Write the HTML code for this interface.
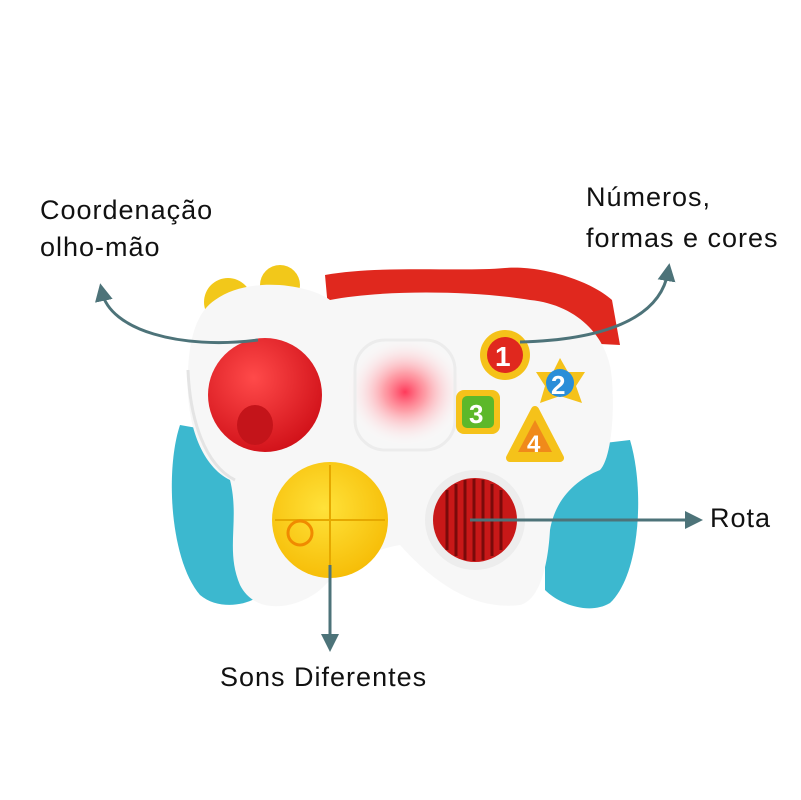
<!DOCTYPE html>
<html><head><meta charset="utf-8"><style>
html,body{margin:0;padding:0;background:#fff;width:801px;height:800px;overflow:hidden}
svg{display:block}
text{font-family:"Liberation Sans",sans-serif;font-size:27px;letter-spacing:1px;fill:#111}
</style></head><body>
<svg width="801" height="800" viewBox="0 0 801 800">
<defs>
<radialGradient id="glow" cx="0.5" cy="0.5" r="0.5">
<stop offset="0" stop-color="#ff3a5a"/><stop offset="0.35" stop-color="#ff8a95" stop-opacity="0.8"/><stop offset="1" stop-color="#ffffff" stop-opacity="0"/></radialGradient>
<radialGradient id="joy" cx="0.4" cy="0.35" r="0.7">
<stop offset="0" stop-color="#ff4a4a"/><stop offset="1" stop-color="#d01018"/></radialGradient>
<radialGradient id="yel" cx="0.45" cy="0.4" r="0.7">
<stop offset="0" stop-color="#ffe23a"/><stop offset="1" stop-color="#f5b800"/></radialGradient>
<marker id="ah" markerWidth="18" markerHeight="18" refX="9" refY="9" orient="auto" markerUnits="userSpaceOnUse" viewBox="0 0 18 18">
<path d="M0,0 L18,9 L0,18 Z" fill="#4d7379"/></marker>
</defs>
<path d="M180,425 C165,470 170,560 200,595 C220,612 255,605 265,590 L265,440 Z" fill="#3cb8cf"/>
<path d="M630,440 C645,490 640,575 610,603 C590,615 560,605 545,590 L545,450 Z" fill="#3cb8cf"/>
<path d="M325,275 C380,265 460,272 505,268 C540,265 590,280 612,300 L620,345 L330,330 Z" fill="#e0281e"/>
<circle cx="228" cy="302" r="24" fill="#f2c81a"/>
<circle cx="280" cy="285" r="20" fill="#f2c81a"/>
<path d="M215,300 C250,275 310,285 330,300 C380,290 470,290 530,300 C580,305 610,340 612,380 C615,420 610,460 600,470 C575,480 555,500 550,530 C548,565 540,600 520,605 C480,610 440,590 400,545 C370,550 345,565 320,590 C295,610 255,615 240,585 C225,550 240,520 230,480 C200,465 185,420 188,370 C190,330 200,310 215,300 Z" fill="#f7f7f7"/>
<path d="M188,370 C190,420 205,465 235,480" fill="none" stroke="#e4e4e4" stroke-width="3"/>
<ellipse cx="405" cy="392" rx="60" ry="55" fill="url(#glow)"/>
<rect x="355" y="340" width="100" height="110" rx="30" fill="none" stroke="#ececec" stroke-width="3"/>
<circle cx="265" cy="395" r="57" fill="url(#joy)"/>
<ellipse cx="255" cy="425" rx="18" ry="20" fill="#c4141a"/>
<circle cx="330" cy="520" r="58" fill="url(#yel)"/>
<path d="M330,465 L330,575 M275,520 L385,520" stroke="#e6a800" stroke-width="2"/>
<circle cx="300" cy="533" r="12" fill="none" stroke="#f08a00" stroke-width="3"/>
<circle cx="475" cy="520" r="50" fill="#ededed"/>
<circle cx="475" cy="520" r="42" fill="#c81818"/>
<g stroke="#7a0a0a" stroke-width="3">
<line x1="447" y1="490" x2="447" y2="550"/><line x1="456" y1="484" x2="456" y2="556"/><line x1="465" y1="480" x2="465" y2="560"/><line x1="474" y1="479" x2="474" y2="561"/><line x1="483" y1="480" x2="483" y2="560"/><line x1="492" y1="484" x2="492" y2="556"/><line x1="501" y1="490" x2="501" y2="550"/></g>
<circle cx="505" cy="355" r="25" fill="#f5c21a"/><circle cx="505" cy="355" r="18" fill="#e0281e"/>
<text x="495" y="366" style="font-size:28px;font-weight:bold;fill:#fff;letter-spacing:0">1</text>
<path d="M560,358 L568,372 L585,372 L576,386 L582,403 L560,396 L540,403 L545,386 L536,372 L553,372 Z" fill="#f5c21a"/>
<circle cx="560" cy="383" r="14" fill="#2a8ed8"/>
<text x="551" y="394" style="font-size:26px;font-weight:bold;fill:#fff;letter-spacing:0">2</text>
<rect x="456" y="390" width="44" height="44" rx="8" fill="#f5c21a"/><rect x="462" y="396" width="32" height="32" rx="5" fill="#5cb82a"/>
<text x="469" y="423" style="font-size:26px;font-weight:bold;fill:#fff;letter-spacing:0">3</text>
<path d="M535,410 L560,458 L510,458 Z" fill="#f5c21a" stroke="#f5c21a" stroke-width="8" stroke-linejoin="round"/>
<path d="M535,420 L552,452 L518,452 Z" fill="#f08a1a"/>
<text x="527" y="452" style="font-size:24px;font-weight:bold;fill:#fff;letter-spacing:0">4</text>
<g fill="none" stroke="#4d7379" stroke-width="3" marker-end="url(#ah)">
<path d="M258,340 C180,350 110,330 102,292"/>
<path d="M520,342 C600,340 660,320 668,272"/>
<path d="M470,520 L694,520"/>
<path d="M330,565 L330,643"/>
</g>
<text x="40" y="219">Coordenação</text>
<text x="40" y="256">olho-mão</text>
<text x="586" y="206">Números,</text>
<text x="586" y="247">formas e cores</text>
<text x="710" y="527">Rota</text>
<text x="220" y="686">Sons Diferentes</text>
</svg>
</body></html>
